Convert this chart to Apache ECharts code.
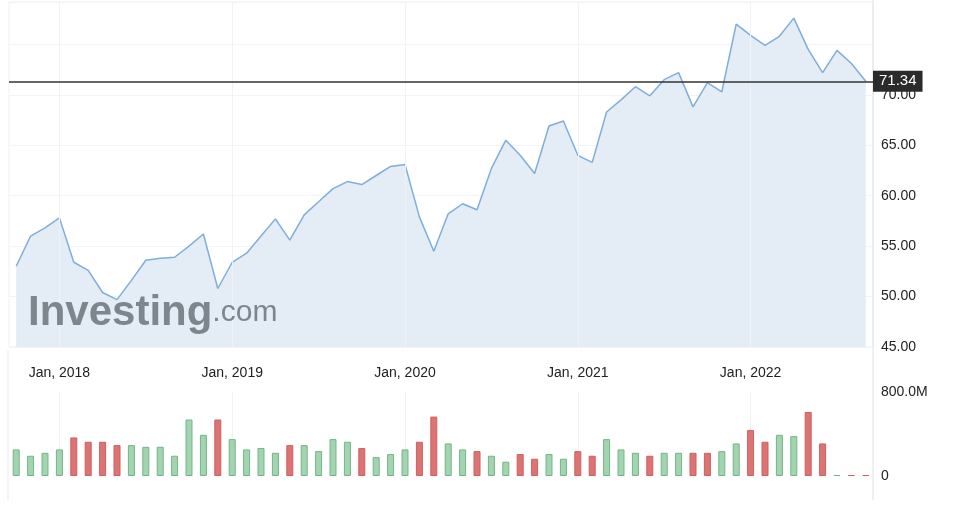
<!DOCTYPE html>
<html><head><meta charset="utf-8">
<script src="https://cdn.jsdelivr.net/npm/echarts@6/dist/echarts.min.js"></script>
<style>html,body{margin:0;padding:0;background:#fff}#c{width:967px;height:505px}</style>
</head><body><div id="c"></div>
<script>
const months=[];for(let i=0;i<60;i++){const m=(9+i)%12,y=2017+Math.floor((9+i)/12);months.push(y+'-'+String(m+1).padStart(2,'0'));}
const prices=[53.0,56.0,56.8,57.8,53.4,52.6,50.4,49.7,51.6,53.6,53.8,53.9,55.0,56.2,50.8,53.4,54.3,56.0,57.7,55.6,58.1,59.4,60.7,61.4,61.1,62.0,62.9,63.1,57.9,54.5,58.2,59.2,58.6,62.7,65.5,64.0,62.2,66.9,67.4,64.0,63.3,68.3,69.5,70.8,69.9,71.5,72.2,68.8,71.2,70.3,77.0,75.9,74.9,75.8,77.6,74.5,72.2,74.4,73.1,71.34];
const volumes=[253,193,221,253,367,326,326,294,294,278,278,193,538,392,538,351,253,266,221,294,294,237,351,326,266,180,209,253,326,566,310,253,237,193,136,209,164,209,164,237,193,351,253,221,193,221,221,221,221,237,310,437,326,392,380,610,310,9,9,9];
const direction="GGGGRRRRGGGGGGRGGGGRGGGGRGGGRRGGRGGRRGGRRGGGRGGRRGGRRGGRRGRR";
const janLabels={'2018-01':'Jan, 2018','2019-01':'Jan, 2019','2020-01':'Jan, 2020','2021-01':'Jan, 2021','2022-01':'Jan, 2022'};
const lastPrice=71.34;
const vLines=Object.keys(janLabels).map(k=>({xAxis:k}));
const chart=echarts.init(document.getElementById('c'));
chart.setOption({
 animation:false,
 grid:[{left:9,right:94,top:2,bottom:158,show:true,borderColor:'#eef0f3',borderWidth:1},
       {left:9,right:94,top:392,bottom:29}],
 graphic:[{type:'text',left:28,top:292,z:100,silent:true,style:{text:'{a|Investing}{b|.com}',rich:{a:{fontFamily:'Arial',fontWeight:'bold',fontSize:42,fill:'#7d858d'},b:{fontFamily:'Arial',fontSize:30,fill:'#7d858d'}}}},
  {type:'line',shape:{x1:873,y1:0,x2:873,y2:500},style:{stroke:'#dde2e8',lineWidth:1}},
  {type:'line',shape:{x1:8,y1:350,x2:8,y2:500},style:{stroke:'#e6e9ee',lineWidth:1}}],
 xAxis:[{type:'category',gridIndex:0,data:months,boundaryGap:true,axisLine:{show:false},axisTick:{show:false},
   axisLabel:{interval:0,margin:19,formatter:v=>janLabels[v]||'',fontFamily:'Arial',fontSize:14,color:'#222'},splitLine:{show:false}},
  {type:'category',gridIndex:1,data:months,boundaryGap:true,axisLine:{show:false},axisTick:{show:false},axisLabel:{show:false}}],
 yAxis:[{type:'value',gridIndex:0,position:'right',min:45,max:79.2,interval:5,
   axisLabel:{formatter:v=>v<=70?v.toFixed(2):'',fontFamily:'Arial',fontSize:14,color:'#222',margin:8},
   axisLine:{show:false},axisTick:{show:false},splitLine:{lineStyle:{color:'#f2f4f7'}}},
  {type:'value',gridIndex:1,position:'right',min:0,max:800,interval:800,
   axisLabel:{formatter:v=>v===0?'0':v.toFixed(1)+'M',fontFamily:'Arial',fontSize:14,color:'#222',margin:8},
   axisLine:{show:false},axisTick:{show:false},splitLine:{show:false}}],
 series:[
  {type:'line',xAxisIndex:1,yAxisIndex:1,data:[],z:0,
   markLine:{silent:true,symbol:'none',label:{show:false},lineStyle:{color:'#f0f2f6',width:1,type:'solid'},data:vLines}},
  {type:'line',xAxisIndex:0,yAxisIndex:0,data:prices,symbol:'none',
   lineStyle:{color:'#7eaedb',width:1.5},areaStyle:{color:'#e4edf5',opacity:1},
   markLine:{silent:true,symbol:'none',data:[...vLines.map(d=>({...d,lineStyle:{color:'#f0f2f6',width:1,type:'solid'},label:{show:false}})),
     {yAxis:lastPrice,lineStyle:{color:'#333',width:1.5,type:'solid'},label:{show:true,position:'end',formatter:'71.34',backgroundColor:'#2b2b2b',color:'#fff',fontFamily:'Arial',fontSize:15,padding:[3,6,3,6],distance:0}}]}},
  {type:'bar',xAxisIndex:1,yAxisIndex:1,barWidth:7,z:5,
   data:volumes.map((v,i)=>({value:v,itemStyle:direction[i]==='G'?{color:'#a3d4b0',borderColor:'#74b587',borderWidth:1}:{color:'#dd7474',borderColor:'#cf5e5e',borderWidth:1}}))}]
});
</script></body></html>
